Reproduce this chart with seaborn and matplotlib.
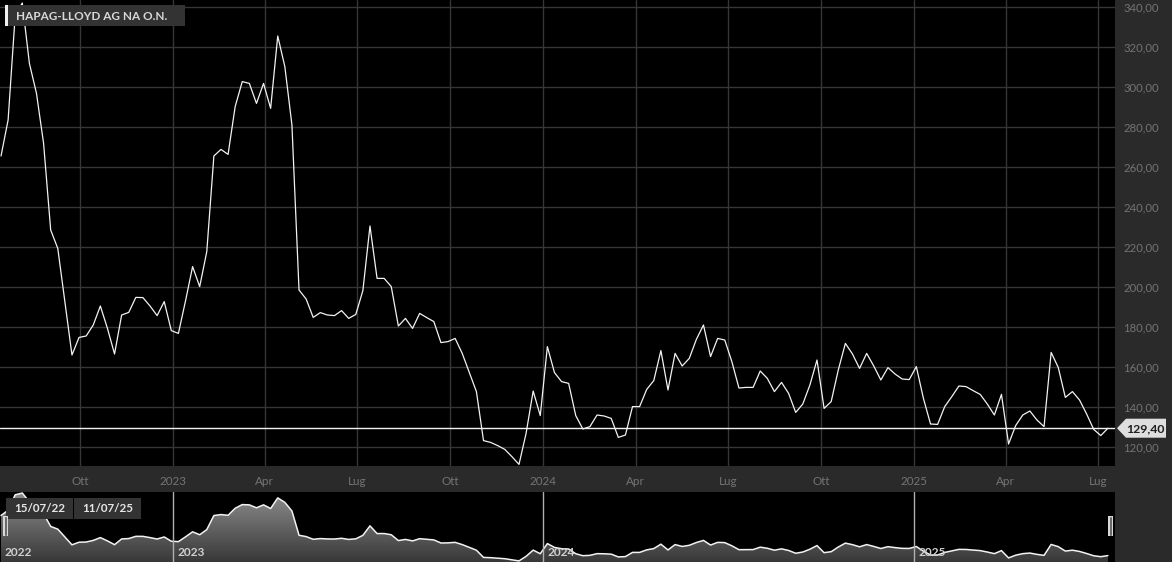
"""Hapag-Lloyd weekly close, dark terminal-style chart with navigator strip."""
import matplotlib

matplotlib.use("Agg")
import matplotlib.dates as mdates
import matplotlib.pyplot as plt
import numpy as np
import pandas as pd
import seaborn as sns
from matplotlib.colors import LinearSegmentedColormap
from matplotlib.patches import Polygon, Rectangle
from matplotlib.ticker import FixedLocator, FuncFormatter

TITLE = "HAPAG-LLOYD AG NA O.N."
START = "2022-07-15"
RANGE_LABELS = ["15/07/22", "11/07/25"]

# weekly closes, 15/07/22 .. 11/07/25
PRICES = [
    265.5, 283.5, 336.0, 342.0, 311.8, 296.8, 271.8, 228.5, 219.3, 192.7,
    166.0, 174.8, 175.5, 181.0, 190.5, 179.3, 166.5, 186.0, 187.3, 194.8,
    194.7, 190.5, 185.7, 192.7, 178.2, 176.8, 193.0, 210.2, 200.2, 217.7,
    265.5, 268.8, 266.3, 290.2, 302.7, 301.8, 291.8, 301.8, 289.3, 325.5,
    310.2, 281.0, 198.5, 194.0, 184.8, 187.2, 186.0, 185.7, 188.2, 184.3,
    186.3, 198.2, 230.5, 204.3, 204.3, 200.2, 180.5, 184.3, 179.3, 186.8,
    184.7, 182.7, 172.2, 172.7, 174.3, 166.8, 157.2, 147.7, 123.2, 122.3,
    120.7, 118.8, 115.2, 111.3, 126.8, 148.0, 135.7, 170.2, 157.2, 152.7,
    151.8, 135.7, 129.0, 130.2, 136.0, 135.5, 134.3, 124.8, 126.0, 140.2,
    140.2, 148.8, 153.2, 168.2, 148.5, 166.8, 160.5, 164.3, 173.8, 181.0,
    165.2, 174.3, 173.5, 162.7, 149.5, 149.8, 149.8, 158.0, 154.3, 147.7,
    152.3, 146.8, 137.3, 141.5, 151.0, 163.5, 139.3, 142.7, 158.5, 171.8,
    166.5, 159.3, 166.8, 160.5, 153.5, 159.7, 156.5, 154.0, 153.7, 160.2,
    144.3, 131.5, 131.3, 140.2, 145.2, 150.5, 150.2, 148.2, 146.3, 141.5,
    136.0, 146.3, 121.5, 130.7, 136.0, 138.0, 133.5, 130.2, 167.3, 159.8,
    144.8, 147.7, 143.5, 136.5, 128.8, 125.7, 129.4,
]

Y_TICKS = [120, 140, 160, 180, 200, 220, 240, 260, 280, 300, 320, 340]
X_TICK_DATES = [
    "2022-10-01", "2023-01-01", "2023-04-01", "2023-07-01", "2023-10-01",
    "2024-01-01", "2024-04-01", "2024-07-01", "2024-10-01", "2025-01-01",
    "2025-04-01", "2025-07-01",
]
X_TICK_LABELS = ["Ott", "2023", "Apr", "Lug", "Ott", "2024", "Apr", "Lug",
                 "Ott", "2025", "Apr", "Lug"]
YEAR_STARTS = ["2023-01-01", "2024-01-01", "2025-01-01"]
YEAR_LABELS = ["2022", "2023", "2024", "2025"]

W, H = 1172, 562
PLOT_W, PLOT_H, BAND = 1115, 466, 26
XLIM = (pd.Timestamp("2022-07-14"), pd.Timestamp("2025-07-18"))

BG = "#000000"
PANEL = "#2a2a2a"
GRID = "#363636"
TICK_TXT = "#747474"
LINE = "#f2f2f2"


def fmt_it(v: float) -> str:
    return f"{v:.2f}".replace(".", ",")


def main() -> None:
    sns.set_theme(style="dark", rc={"axes.facecolor": BG, "figure.facecolor": PANEL})
    plt.rcParams["font.family"] = ["Lato", "DejaVu Sans"]

    dates = pd.date_range(START, periods=len(PRICES), freq="7D")
    df = pd.DataFrame({"date": dates, "close": PRICES})
    last = PRICES[-1]

    fig = plt.figure(figsize=(W / 100, H / 100), dpi=100, facecolor=PANEL)

    # main price panel
    ax = fig.add_axes([0, (H - PLOT_H) / H, PLOT_W / W, PLOT_H / H])
    ax.set_facecolor(BG)
    sns.lineplot(data=df, x="date", y="close", ax=ax, color=LINE, lw=0.9)
    ax.axhline(last, color=LINE, lw=1.0, zorder=3)
    ax.set_xlim(*XLIM)
    ax.set_ylim(110.5, 343.5)
    ax.yaxis.tick_right()
    ax.yaxis.set_major_locator(FixedLocator(Y_TICKS))
    ax.yaxis.set_major_formatter(FuncFormatter(lambda v, _: fmt_it(v)))
    tick_nums = mdates.date2num(pd.to_datetime(X_TICK_DATES))
    ax.xaxis.set_major_locator(FixedLocator(tick_nums))
    ax.xaxis.set_major_formatter(FuncFormatter(
        lambda v, pos: X_TICK_LABELS[pos] if pos is not None and pos < len(X_TICK_LABELS) else ""))
    ax.tick_params(axis="y", length=0, pad=6, labelsize=8.2, labelcolor=TICK_TXT)
    ax.tick_params(axis="x", length=0, pad=7, labelsize=8.4, labelcolor=TICK_TXT)
    ax.grid(True, color=GRID, lw=1.0)
    ax.set_xlabel("")
    ax.set_ylabel("")
    for s in ax.spines.values():
        s.set_visible(False)

    # navigator strip
    nav_h = H - PLOT_H - BAND
    nav = fig.add_axes([0, 0, PLOT_W / W, nav_h / H])
    nav.set_facecolor(BG)
    nymin, nymax = 107.6, 345.5
    xnum = mdates.date2num(dates)
    verts = [(xnum[0], nymin)] + list(zip(xnum, PRICES)) + [(xnum[-1], nymin)]
    clip = Polygon(verts, closed=True, facecolor="none", edgecolor="none")
    nav.add_patch(clip)
    cmap = LinearSegmentedColormap.from_list("nav", ["#383838", "#8e8e8e"])
    grad = np.linspace(0, 1, 256).reshape(-1, 1)
    im = nav.imshow(grad, extent=[xnum[0], xnum[-1], nymin, nymax], origin="lower",
                    aspect="auto", cmap=cmap, zorder=1)
    im.set_clip_path(clip)
    sns.lineplot(data=df, x="date", y="close", ax=nav, color=LINE, lw=1.1, zorder=2)
    for d in YEAR_STARTS:
        nav.axvline(pd.Timestamp(d), color="#b0b0b0", lw=1.0, zorder=3)
    nav.set_xlim(*XLIM)
    nav.set_ylim(nymin, nymax)
    nav.set_xticks([])
    nav.set_yticks([])
    nav.set_xlabel("")
    nav.set_ylabel("")
    nav.grid(False)
    for s in nav.spines.values():
        s.set_visible(False)

    # pixel overlay for labels and boxes
    ov = fig.add_axes([0, 0, 1, 1], zorder=10)
    ov.set_xlim(0, W)
    ov.set_ylim(H, 0)
    ov.axis("off")

    # title tag
    ov.add_patch(Rectangle((5, 5), 180, 21, facecolor="#333333", edgecolor="none"))
    ov.add_patch(Rectangle((5, 5), 2.5, 21, facecolor="#f0f0f0", edgecolor="none"))
    ov.text(16, 16, TITLE, color="#d8d8d8", fontsize=8.5, fontweight="bold",
            ha="left", va="center")

    # last price tag
    y_last = PLOT_H - (last - 110.5) * PLOT_H / (343.5 - 110.5)
    tag = [(1117, y_last), (1126, y_last - 9.5), (1166, y_last - 9.5),
           (1166, y_last + 9.5), (1126, y_last + 9.5)]
    ov.add_patch(Polygon(tag, closed=True, facecolor="#dedede", edgecolor="none"))
    ov.text(1145.5, y_last + 0.5, fmt_it(last), color="#1e1e1e", fontsize=8.8,
            fontweight="bold", ha="center", va="center")

    # navigator range boxes
    for x0, lab in zip([6, 74], RANGE_LABELS):
        ov.add_patch(Rectangle((x0, 498), 67, 21, facecolor="#333333", edgecolor="none"))
        ov.text(x0 + 33.5, 509, lab, color="#e6e6e6", fontsize=8.4,
                fontweight="bold", ha="center", va="center")

    # navigator handles
    for hx in [3, 1108]:
        ov.add_patch(Rectangle((hx, 516), 5, 20, facecolor="#d8d8d8", edgecolor="none"))
        ov.plot([hx + 1.7, hx + 1.7], [517, 535], color="#555555", lw=0.6)
        ov.plot([hx + 3.4, hx + 3.4], [517, 535], color="#555555", lw=0.6)

    # year labels in navigator
    px_per_day = PLOT_W / (XLIM[1] - XLIM[0]).days
    year_x = [4] + [(pd.Timestamp(d) - XLIM[0]).days * px_per_day + 4 for d in YEAR_STARTS]
    for x, lab in zip(year_x, YEAR_LABELS):
        ov.text(x, 552, lab, color="#d0d0d0", fontsize=8.6, fontweight="bold",
                ha="left", va="center")

    fig.savefig("out.png", dpi=100, facecolor=PANEL)
    plt.close(fig)


if __name__ == "__main__":
    main()
